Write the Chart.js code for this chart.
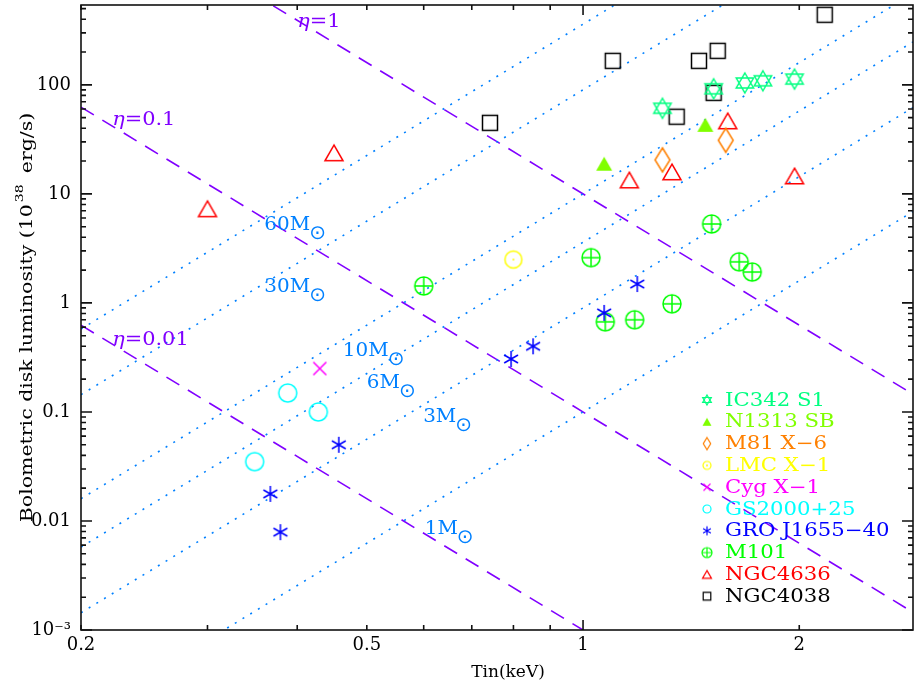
<!DOCTYPE html>
<html>
<head>
<meta charset="utf-8">
<script src="https://cdn.jsdelivr.net/npm/chart.js@4.4.1/dist/chart.umd.min.js"></script>
<style>
  html, body { margin: 0; padding: 0; background: #fff; }
</style>
</head>
<body>
<canvas id="myChart" width="914" height="686"></canvas>
<script>
// Tin (keV) and bolometric disk luminosity (1e38 erg/s)
const ic342Tin = [1.29, 1.52, 1.68, 1.78, 1.97];
const ic342Lum = [61, 92, 104, 109, 113];
const n1313Tin = [1.07, 1.48];
const n1313Lum = [18.9, 43];
const m81Tin = [1.29, 1.58];
const m81Lum = [20.5, 31];
const lmcTin = [0.80];
const lmcLum = [2.5];
const cygTin = [0.43];
const cygLum = [0.25];
const gsTin = [0.349, 0.388, 0.428];
const gsLum = [0.035, 0.149, 0.10];
const groTin = [0.367, 0.379, 0.457, 0.794, 0.852, 1.07, 1.19];
const groLum = [0.0177, 0.0079, 0.050, 0.306, 0.40, 0.81, 1.49];
const m101Tin = [0.60, 1.026, 1.074, 1.18, 1.33, 1.51, 1.65, 1.72];
const m101Lum = [1.43, 2.6, 0.67, 0.70, 0.98, 5.3, 2.38, 1.92];
const ngc4636Tin = [0.30, 0.45, 1.16, 1.33, 1.59, 1.97];
const ngc4636Lum = [7.3, 23.8, 13.4, 15.9, 46.7, 14.6];
const ngc4038Tin = [0.742, 1.10, 1.35, 1.45, 1.52, 1.54, 2.17];
const ngc4038Lum = [44.8, 166, 51, 166, 84.5, 205, 439];

// model lines: luminosity at 1 keV, L ~ T^4 (mass) and L ~ T^-4 (eta)
const massNames = ['60', '30', '10', '6', '3', '1'];
const massLum1keV = [360, 90, 10, 3.6, 0.9, 0.1];
const etaNames = ['1', '0.1', '0.01'];
const etaLum1keV = [10, 0.1, 0.001];

const xTicks = [0.2, 0.5, 1, 2];
const xTickLabels = ['0.2', '0.5', '1', '2'];
const yTicks = [0.001, 0.01, 0.1, 1, 10, 100];
const yTickLabels = ['10\u207B\u00B3', '0.01', '0.1', '1', '10', '100'];
const xMin = 0.2, xMax = 2.88, yMin = 0.001, yMax = 540;

// where the line labels sit (Tin, L at text baseline-left)
const massLabelAt = [[0.36, 4.7], [0.36, 1.26], [0.463, 0.326], [0.50, 0.166], [0.599, 0.081], [0.602, 0.0076]];
const etaLabelAt = [[0.40, 340], [0.221, 43], [0.221, 0.41]];

const serif = 'DejaVu Serif';
const massColor = '#0080ff';
const etaColor = '#8000ff';

function makeMarker(kind, s, color, lw) {
  const c = document.createElement('canvas');
  const n = 2 * Math.ceil(s + 3);
  c.width = n; c.height = n;
  const g = c.getContext('2d');
  const m = n / 2;
  g.strokeStyle = color; g.fillStyle = color; g.lineWidth = lw;
  g.beginPath();
  if (kind === 'square') {
    g.rect(m - s, m - s, 2 * s, 2 * s); g.stroke();
  } else if (kind === 'triangle' || kind === 'filledTriangle') {
    const h = 2 * s * 0.866;
    g.moveTo(m, m - h / 2); g.lineTo(m + s, m + h / 2); g.lineTo(m - s, m + h / 2); g.closePath();
    if (kind === 'triangle') g.stroke(); else g.fill();
  } else if (kind === 'hexagram') {
    for (const d of [1, -1]) {
      g.moveTo(m, m - d * s); g.lineTo(m + s * 0.866, m + d * s / 2); g.lineTo(m - s * 0.866, m + d * s / 2); g.closePath();
    }
    g.stroke();
  } else if (kind === 'diamond') {
    g.moveTo(m, m - s); g.lineTo(m + s * 0.62, m); g.lineTo(m, m + s); g.lineTo(m - s * 0.62, m); g.closePath(); g.stroke();
  } else if (kind === 'circle' || kind === 'circleDot' || kind === 'circlePlus') {
    g.arc(m, m, s, 0, Math.PI * 2); g.stroke();
    if (kind === 'circleDot') { g.beginPath(); g.arc(m, m, 1, 0, Math.PI * 2); g.fill(); }
    if (kind === 'circlePlus') { g.beginPath(); g.moveTo(m - s, m); g.lineTo(m + s, m); g.moveTo(m, m - s); g.lineTo(m, m + s); g.stroke(); }
  } else if (kind === 'cross') {
    g.moveTo(m - s, m - s); g.lineTo(m + s, m + s); g.moveTo(m + s, m - s); g.lineTo(m - s, m + s); g.stroke();
  } else if (kind === 'asterisk') {
    g.moveTo(m, m - s); g.lineTo(m, m + s);
    const cx = s * Math.cos(Math.PI / 6), cy = s * Math.sin(Math.PI / 6);
    g.moveTo(m - cx, m - cy); g.lineTo(m + cx, m + cy);
    g.moveTo(m - cx, m + cy); g.lineTo(m + cx, m - cy);
    g.stroke();
  }
  return c;
}

const sources = [
  { label: 'IC342 S1', tin: ic342Tin, lum: ic342Lum, color: '#00ff80', kind: 'hexagram', size: 10, small: 5 },
  { label: 'N1313 SB', tin: n1313Tin, lum: n1313Lum, color: '#80ff00', kind: 'filledTriangle', size: 8, small: 4.5 },
  { label: 'M81 X\u22126', tin: m81Tin, lum: m81Lum, color: '#ff8000', kind: 'diamond', size: 12, small: 6 },
  { label: 'LMC X\u22121', tin: lmcTin, lum: lmcLum, color: '#ffff00', kind: 'circleDot', size: 8.5, small: 4 },
  { label: 'Cyg X\u22121', tin: cygTin, lum: cygLum, color: '#ff00ff', kind: 'cross', size: 6.5, small: 3.5 },
  { label: 'GS2000+25', tin: gsTin, lum: gsLum, color: '#00ffff', kind: 'circle', size: 9, small: 4 },
  { label: 'GRO J1655\u221240', tin: groTin, lum: groLum, color: '#0000ff', kind: 'asterisk', size: 8, small: 4.5 },
  { label: 'M101', tin: m101Tin, lum: m101Lum, color: '#00ff00', kind: 'circlePlus', size: 9, small: 5 },
  { label: 'NGC4636', tin: ngc4636Tin, lum: ngc4636Lum, color: '#ff0000', kind: 'triangle', size: 9, small: 4.5 },
  { label: 'NGC4038', tin: ngc4038Tin, lum: ngc4038Lum, color: '#000000', kind: 'square', size: 7.5, small: 3.8 }
];

const datasets = [];
sources.forEach(s => {
  s.legendMark = makeMarker(s.kind, s.small, s.color, 1.2);
  datasets.push({
    type: 'scatter',
    label: s.label,
    data: s.tin.map((t, i) => ({ x: t, y: s.lum[i] })),
    pointStyle: makeMarker(s.kind, s.size, s.color, 1.5),
    clip: false,
    order: 1
  });
});
massLum1keV.forEach((l1, i) => {
  datasets.push({
    type: 'line',
    label: massNames[i] + 'M',
    data: [{ x: xMin, y: l1 * Math.pow(xMin, 4) }, { x: xMax, y: l1 * Math.pow(xMax, 4) }],
    borderColor: massColor, borderWidth: 1.6, borderDash: [2, 7],
    pointRadius: 0, fill: false, clip: 0, order: 2
  });
});
etaLum1keV.forEach((l1, i) => {
  datasets.push({
    type: 'line',
    label: 'eta=' + etaNames[i],
    data: [{ x: xMin, y: l1 * Math.pow(xMin, -4) }, { x: xMax, y: l1 * Math.pow(xMax, -4) }],
    borderColor: etaColor, borderWidth: 1.6, borderDash: [15, 10],
    pointRadius: 0, fill: false, clip: 0, order: 2
  });
});

function stretched(ctx, text, x, y, sx) {
  ctx.save();
  ctx.translate(x, y);
  ctx.scale(sx, 1);
  ctx.fillText(text, 0, 0);
  ctx.restore();
  return ctx.measureText(text).width * sx;
}

const decorPlugin = {
  id: 'decor',
  afterDatasetsDraw(chart) {
    const { ctx, chartArea: a, scales: { x, y } } = chart;
    ctx.save();
    // frame with inward ticks
    ctx.strokeStyle = '#111';
    ctx.lineWidth = 1.6;
    ctx.strokeRect(a.left, a.top, a.right - a.left, a.bottom - a.top);
    ctx.beginPath();
    for (let d = -1; d <= 0; d++) {
      for (let k = 1; k <= 9; k++) {
        const v = k * Math.pow(10, d);
        if (v < xMin || v > xMax) continue;
        const px = x.getPixelForValue(v);
        const len = k === 1 ? 10 : 5;
        ctx.moveTo(px, a.bottom); ctx.lineTo(px, a.bottom - len);
        ctx.moveTo(px, a.top); ctx.lineTo(px, a.top + len);
      }
    }
    for (let d = -3; d <= 2; d++) {
      for (let k = 1; k <= 9; k++) {
        const v = k * Math.pow(10, d);
        if (v > yMax) continue;
        const py = y.getPixelForValue(v);
        const len = k === 1 ? 11 : 5;
        ctx.moveTo(a.left, py); ctx.lineTo(a.left + len, py);
        ctx.moveTo(a.right, py); ctx.lineTo(a.right - len, py);
      }
    }
    ctx.stroke();

    ctx.textBaseline = 'alphabetic';
    // mass labels
    ctx.fillStyle = massColor;
    massNames.forEach((nm, i) => {
      const px = x.getPixelForValue(massLabelAt[i][0]);
      const py = y.getPixelForValue(massLabelAt[i][1]);
      ctx.font = '19px "' + serif + '"';
      const w = stretched(ctx, nm + 'M', px, py, 1.05);
      ctx.font = '20px "DejaVu Sans"';
      stretched(ctx, '\u2299', px + w - 1, py + 9, 1);
    });
    // eta labels
    ctx.fillStyle = etaColor;
    etaNames.forEach((nm, i) => {
      const px = x.getPixelForValue(etaLabelAt[i][0]);
      const py = y.getPixelForValue(etaLabelAt[i][1]);
      ctx.font = 'italic 19px "' + serif + '"';
      const w = stretched(ctx, '\u03B7', px, py, 1.1);
      ctx.font = '19px "' + serif + '"';
      stretched(ctx, '=' + nm, px + w, py, 1.1);
    });

    // legend
    ctx.font = '18px "' + serif + '"';
    ctx.textBaseline = 'middle';
    sources.forEach((s, i) => {
      const ry = 400 + i * 21.8;
      const mk = s.legendMark;
      ctx.drawImage(mk, 707 - mk.width / 2, ry - mk.height / 2);
      ctx.fillStyle = s.color;
      stretched(ctx, s.label, 725, ry + 1, 1.18);
    });

    // axis titles
    ctx.fillStyle = '#000';
    ctx.textBaseline = 'alphabetic';
    ctx.font = '17px "' + serif + '"';
    ctx.textAlign = 'center';
    ctx.fillText('Tin(keV)', 508, 677);
    ctx.textAlign = 'left';

    const sx = 1.28;
    const p1 = 'Bolometric disk luminosity (10', sup = '38', p2 = '  erg/s)';
    ctx.font = '16px "' + serif + '"';
    const w1 = ctx.measureText(p1).width * sx, w2 = ctx.measureText(p2).width * sx;
    ctx.font = '11px "' + serif + '"';
    const ws = ctx.measureText(sup).width * sx;
    const total = w1 + ws + w2;
    ctx.save();
    ctx.translate(32, (a.top + a.bottom) / 2);
    ctx.rotate(-Math.PI / 2);
    let cx = -total / 2;
    ctx.font = '16px "' + serif + '"';
    stretched(ctx, p1, cx, 0, sx); cx += w1;
    ctx.font = '11px "' + serif + '"';
    stretched(ctx, sup, cx + 2, -9, sx); cx += ws;
    ctx.font = '16px "' + serif + '"';
    stretched(ctx, p2, cx, 0, sx);
    ctx.restore();

    ctx.restore();
  }
};

const chart = new Chart(document.getElementById('myChart').getContext('2d'), {
  data: { datasets: datasets },
  options: {
    responsive: false,
    animation: false,
    events: [],
    layout: { autoPadding: false, padding: { top: 5, right: 1, left: 0, bottom: 0 } },
    plugins: { legend: { display: false }, tooltip: { enabled: false } },
    scales: {
      x: {
        type: 'logarithmic', position: 'bottom', min: xMin, max: xMax,
        afterFit: s => { s.height = 56; s.paddingLeft = 0; s.paddingRight = 0; },
        afterBuildTicks: s => { s.ticks = xTicks.map(v => ({ value: v })); },
        ticks: {
          font: { family: serif, size: 18 }, color: '#000', padding: 5,
          autoSkip: false, maxRotation: 0,
          callback: (v, i) => xTickLabels[i]
        },
        grid: { display: false, drawTicks: false },
        border: { display: false }
      },
      y: {
        type: 'logarithmic', position: 'left', min: yMin, max: yMax,
        afterFit: s => { s.width = 81; s.paddingTop = 0; s.paddingBottom = 0; },
        afterBuildTicks: s => { s.ticks = yTicks.map(v => ({ value: v })); },
        ticks: {
          font: { family: serif, size: 18 }, color: '#000', padding: 10,
          autoSkip: false,
          callback: (v, i) => yTickLabels[i]
        },
        grid: { display: false, drawTicks: false },
        border: { display: false }
      }
    }
  },
  plugins: [decorPlugin]
});
</script>
</body>
</html>
